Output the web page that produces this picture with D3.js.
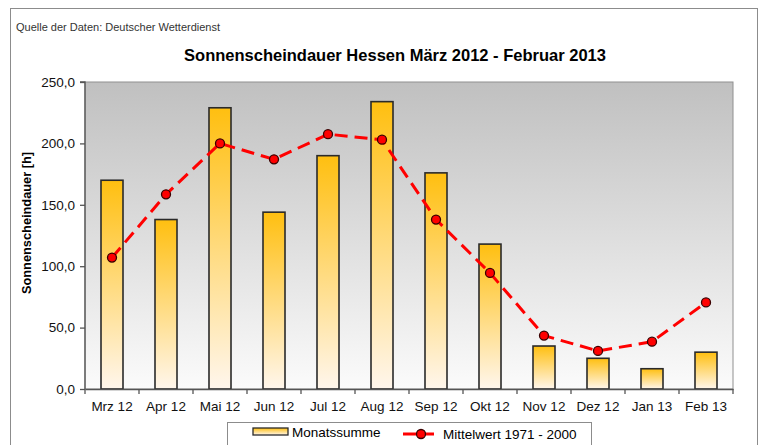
<!DOCTYPE html>
<html>
<head>
<meta charset="utf-8">
<script src="https://cdn.jsdelivr.net/npm/d3@7"></script>
<style>
  body { margin: 0; background: #fff; }
  svg { display: block; font-family: "Liberation Sans", Arial, sans-serif; }
</style>
</head>
<body>
<svg width="761" height="445"></svg>
<script>
// Data
const months = ['Mrz 12', 'Apr 12', 'Mai 12', 'Jun 12', 'Jul 12', 'Aug 12',
                'Sep 12', 'Okt 12', 'Nov 12', 'Dez 12', 'Jan 13', 'Feb 13'];
const monatssumme = [170, 138, 229, 144, 190, 234, 176, 118, 35, 25, 16.5, 30];   // bars
const mittelwert = [107, 158.5, 200, 187, 207.5, 203, 138, 94.5, 43.5, 31, 38.5, 70.5]; // line
const yTicks = [0, 50, 100, 150, 200, 250];

const svg = d3.select('svg');
const defs = svg.append('defs');

// plot area
const pLeft = 85, pRight = 733, pTop = 82, pBottom = 389;

// outer frame
svg.append('rect').attr('x', 10.5).attr('y', 8.5).attr('width', 747).attr('height', 450)
  .attr('fill', '#fff').attr('stroke', '#8c8c8c');

// gradients
const bg = defs.append('linearGradient').attr('id', 'bg').attr('x1', 0).attr('y1', 0).attr('x2', 0).attr('y2', 1);
bg.append('stop').attr('offset', '0%').attr('stop-color', '#c0c0c0');
bg.append('stop').attr('offset', '100%').attr('stop-color', '#fbfbfb');

const barGrad = defs.append('linearGradient').attr('id', 'bar').attr('x1', 0).attr('y1', 0).attr('x2', 0).attr('y2', 1);
barGrad.append('stop').attr('offset', '0%').attr('stop-color', '#ffbf10');
barGrad.append('stop').attr('offset', '100%').attr('stop-color', '#fff6ec');

const x = d3.scaleBand().domain(months).range([pLeft, pRight]);
const y = d3.scaleLinear().domain([0, 250]).range([pBottom, pTop]);

// plot background
svg.append('rect').attr('x', pLeft).attr('y', pTop).attr('width', pRight - pLeft).attr('height', pBottom - pTop)
  .attr('fill', 'url(#bg)').attr('stroke', '#909090');

// source + title
svg.append('text').attr('x', 16).attr('y', 31).attr('font-size', 11).attr('fill', '#333')
  .text('Quelle der Daten: Deutscher Wetterdienst');
svg.append('text').attr('x', 395).attr('y', 61).attr('text-anchor', 'middle')
  .attr('font-size', 16.5).attr('font-weight', 'bold').attr('fill', '#000')
  .text('Sonnenscheindauer Hessen März 2012 - Februar 2013');

// bars
const bw = 22;
svg.append('g').selectAll('rect').data(months).join('rect')
  .attr('x', d => x(d) + x.bandwidth() / 2 - bw / 2)
  .attr('y', (d, i) => y(monatssumme[i]))
  .attr('width', bw)
  .attr('height', (d, i) => pBottom - y(monatssumme[i]))
  .attr('fill', 'url(#bar)').attr('stroke', '#2a2a2a').attr('stroke-width', 1.6);

// line
const line = d3.line().x((d, i) => x(months[i]) + x.bandwidth() / 2).y(d => y(d));
svg.append('path').datum(mittelwert).attr('d', line)
  .attr('fill', 'none').attr('stroke', '#ff0000').attr('stroke-width', 3)
  .attr('stroke-dasharray', '13,7');
svg.append('g').selectAll('circle').data(mittelwert).join('circle')
  .attr('cx', (d, i) => x(months[i]) + x.bandwidth() / 2)
  .attr('cy', d => y(d)).attr('r', 4.5)
  .attr('fill', '#ff0000').attr('stroke', '#3a0000').attr('stroke-width', 1.3);

// axes
const fmt = d => d.toFixed(1).replace('.', ',');
const yAxis = svg.append('g').attr('transform', `translate(${pLeft},0)`)
  .call(d3.axisLeft(y).tickValues(yTicks).tickFormat(fmt).tickSize(5).tickPadding(5));
const xAxis = svg.append('g').attr('transform', `translate(0,${pBottom})`)
  .call(d3.axisBottom(x).tickSize(0).tickPadding(12));
// category boundary ticks
xAxis.selectAll('.bnd').data(d3.range(months.length + 1)).join('line').attr('class', 'bnd')
  .attr('x1', i => pLeft + i * x.step()).attr('x2', i => pLeft + i * x.step())
  .attr('y1', 0).attr('y2', 5);
[yAxis, xAxis].forEach(g => {
  g.selectAll('.domain, line').attr('stroke', '#555').attr('stroke-width', 1.3);
  g.selectAll('text').attr('font-size', 13.5).attr('fill', '#111')
    .attr('font-family', '"Liberation Sans", Arial, sans-serif');
});
yAxis.select('.domain').attr('d', `M-5,${pTop}H0V${pBottom}`);

// y label
svg.append('text').attr('transform', `translate(31,223) rotate(-90)`)
  .attr('text-anchor', 'middle').attr('font-size', 12.8).attr('font-weight', 'bold')
  .text('Sonnenscheindauer [h]');

// legend
const lg = svg.append('g');
lg.append('rect').attr('x', 227.5).attr('y', 422.5).attr('width', 364).attr('height', 40)
  .attr('fill', '#fff').attr('stroke', '#8c8c8c');
lg.append('rect').attr('x', 253).attr('y', 428).attr('width', 35).attr('height', 7)
  .attr('fill', 'url(#bar)').attr('stroke', '#2a2a2a').attr('stroke-width', 1.3);
lg.append('text').attr('x', 292).attr('y', 437).attr('font-size', 13.5).text('Monatssumme');
lg.append('line').attr('x1', 403).attr('x2', 434).attr('y1', 434).attr('y2', 434)
  .attr('stroke', '#ff0000').attr('stroke-width', 3).attr('stroke-dasharray', '13,7');
lg.append('circle').attr('cx', 421).attr('cy', 434).attr('r', 4.5)
  .attr('fill', '#ff0000').attr('stroke', '#3a0000').attr('stroke-width', 1.3);
lg.append('text').attr('x', 443).attr('y', 439).attr('font-size', 13.5).text('Mittelwert 1971 - 2000');
</script>
</body>
</html>
